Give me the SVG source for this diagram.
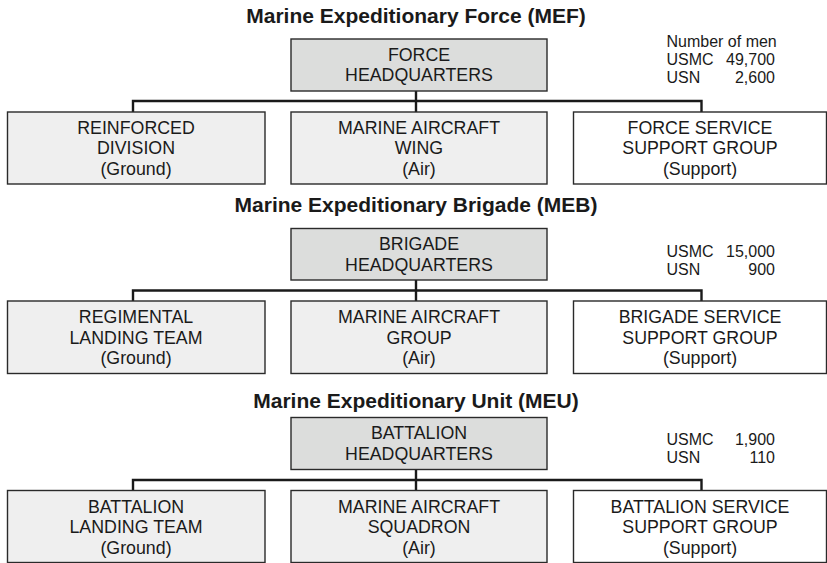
<svg xmlns="http://www.w3.org/2000/svg" width="827" height="563" viewBox="0 0 827 563">
<style>
text{font-family:"Liberation Sans",Arial,sans-serif;fill:#1a1a1a}
.t{font-size:21px;font-weight:bold;text-anchor:middle}
.n{font-size:17.8px;text-anchor:middle}
.s{font-size:16px}
.r{text-anchor:end}
.hq{fill:#dcdddc;stroke:#2a2a2a;stroke-width:1.4}
.ch{fill:#efefef;stroke:#2a2a2a;stroke-width:1.4}
.sp{fill:#ffffff;stroke:#2a2a2a;stroke-width:1.4}
.c{fill:none;stroke:#1a1a1a;stroke-width:2.4}
</style>
<rect width="827" height="563" fill="#ffffff"/>

<!-- Section 1: MEF -->
<g id="mef-title"><text class="t" x="416" y="22.5">Marine Expeditionary Force (MEF)</text></g>
<g id="mef-counts">
<text class="s" x="666.5" y="46.5">Number of men</text>
<text class="s" x="666.5" y="65">USMC</text><text class="s r" x="775" y="65">49,700</text>
<text class="s" x="666.5" y="83">USN</text><text class="s r" x="775" y="83">2,600</text>
</g>
<g id="connectors-mef">
<path class="c" d="M416 91V101M133 112V101H701.5V112M416 101V112"/>
</g>
<g id="mef-hq"><rect class="hq" x="291" y="39" width="256" height="52"/>
<text class="n" x="419" y="60.5">FORCE</text><text class="n" x="419" y="81">HEADQUARTERS</text></g>
<g id="mef-ground"><rect class="ch" x="7.5" y="112" width="257.5" height="72"/>
<text class="n" x="136" y="133.5">REINFORCED</text><text class="n" x="136" y="154">DIVISION</text><text class="n" x="136" y="174.5">(Ground)</text></g>
<g id="mef-air"><rect class="ch" x="291" y="112" width="256" height="72"/>
<text class="n" x="419" y="133.5">MARINE AIRCRAFT</text><text class="n" x="419" y="154">WING</text><text class="n" x="419" y="174.5">(Air)</text></g>
<g id="mef-support"><rect class="sp" x="573.5" y="112" width="253" height="72"/>
<text class="n" x="700" y="133.5">FORCE SERVICE</text><text class="n" x="700" y="154">SUPPORT GROUP</text><text class="n" x="700" y="174.5">(Support)</text></g>

<!-- Section 2: MEB -->
<g id="meb-title"><text class="t" x="416" y="212">Marine Expeditionary Brigade (MEB)</text></g>
<g id="meb-counts">
<text class="s" x="666.5" y="256.5">USMC</text><text class="s r" x="775" y="256.5">15,000</text>
<text class="s" x="666.5" y="274.5">USN</text><text class="s r" x="775" y="274.5">900</text>
</g>
<g id="connectors-meb">
<path class="c" d="M416 280V290.5M133 301V290.5H701.5V301M416 290.5V301"/>
</g>
<g id="meb-hq"><rect class="hq" x="291" y="228.5" width="256" height="51.5"/>
<text class="n" x="419" y="250">BRIGADE</text><text class="n" x="419" y="270.5">HEADQUARTERS</text></g>
<g id="meb-ground"><rect class="ch" x="7.5" y="301" width="257.5" height="72.5"/>
<text class="n" x="136" y="323">REGIMENTAL</text><text class="n" x="136" y="343.5">LANDING TEAM</text><text class="n" x="136" y="364">(Ground)</text></g>
<g id="meb-air"><rect class="ch" x="291" y="301" width="256" height="72.5"/>
<text class="n" x="419" y="323">MARINE AIRCRAFT</text><text class="n" x="419" y="343.5">GROUP</text><text class="n" x="419" y="364">(Air)</text></g>
<g id="meb-support"><rect class="sp" x="573.5" y="301" width="253" height="72.5"/>
<text class="n" x="700" y="323">BRIGADE SERVICE</text><text class="n" x="700" y="343.5">SUPPORT GROUP</text><text class="n" x="700" y="364">(Support)</text></g>

<!-- Section 3: MEU -->
<g id="meu-title"><text class="t" x="416" y="408">Marine Expeditionary Unit (MEU)</text></g>
<g id="meu-counts">
<text class="s" x="666.5" y="444.5">USMC</text><text class="s r" x="775" y="444.5">1,900</text>
<text class="s" x="666.5" y="462.5">USN</text><text class="s r" x="775" y="462.5">110</text>
</g>
<g id="connectors-meu">
<path class="c" d="M416 469.5V480M133 490.5V480H701.5V490.5M416 480V490.5"/>
</g>
<g id="meu-hq"><rect class="hq" x="291" y="417.5" width="256" height="52"/>
<text class="n" x="419" y="439">BATTALION</text><text class="n" x="419" y="459.5">HEADQUARTERS</text></g>
<g id="meu-ground"><rect class="ch" x="7.5" y="490.5" width="257.5" height="72"/>
<text class="n" x="136" y="512.5">BATTALION</text><text class="n" x="136" y="533">LANDING TEAM</text><text class="n" x="136" y="553.5">(Ground)</text></g>
<g id="meu-air"><rect class="ch" x="291" y="490.5" width="256" height="72"/>
<text class="n" x="419" y="512.5">MARINE AIRCRAFT</text><text class="n" x="419" y="533">SQUADRON</text><text class="n" x="419" y="553.5">(Air)</text></g>
<g id="meu-support"><rect class="sp" x="573.5" y="490.5" width="253" height="72"/>
<text class="n" x="700" y="512.5">BATTALION SERVICE</text><text class="n" x="700" y="533">SUPPORT GROUP</text><text class="n" x="700" y="553.5">(Support)</text></g>
</svg>
